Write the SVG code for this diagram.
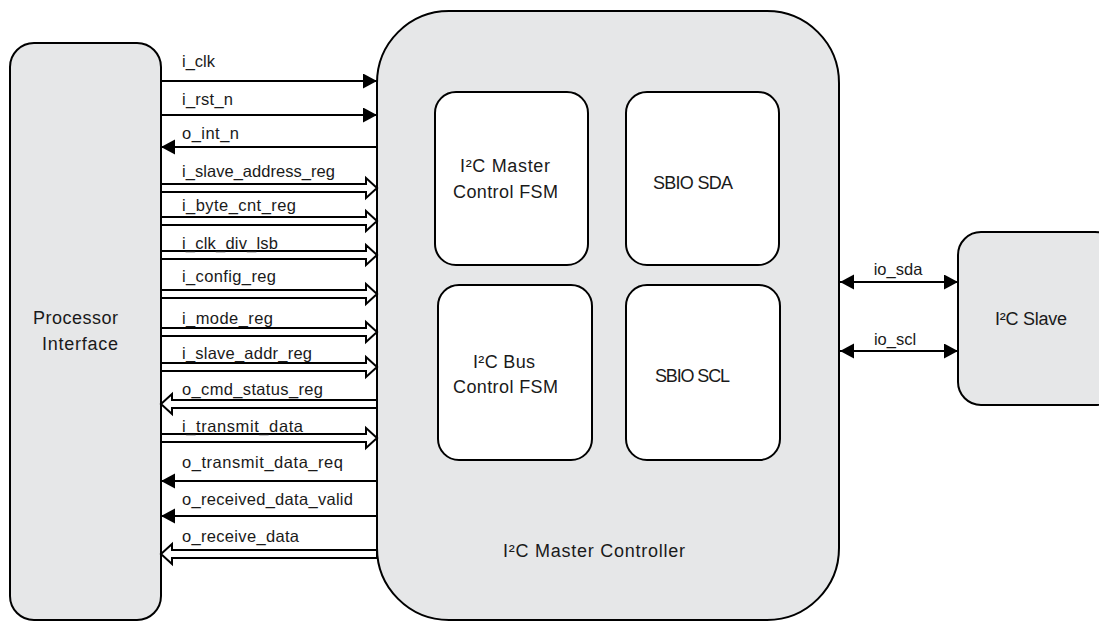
<svg xmlns="http://www.w3.org/2000/svg" xmlns:xlink="http://www.w3.org/1999/xlink" width="1099" height="621" viewBox="0 0 1099 621">
<style>
.box{fill:#e6e7e8;stroke:#000;stroke-width:2}
.inner{fill:#fff;stroke:#000;stroke-width:2}
.t{font-family:"Liberation Sans",Arial,sans-serif;font-size:18px;fill:#1a1a1a}
.s{font-family:"Liberation Sans",Arial,sans-serif;font-size:16.5px;fill:#1a1a1a}
.w{stroke:#000;stroke-width:2;fill:none}
.bus{fill:#fff;stroke:#000;stroke-width:2;stroke-linejoin:miter}
</style>
<defs>
<marker id="ah" markerUnits="userSpaceOnUse" markerWidth="16" markerHeight="16" refX="14" refY="7.5" orient="auto-start-reverse" viewBox="0 0 16 16">
<path d="M0,0 L14,7.5 L0,15 Z" fill="#000"/>
</marker>
<path id="busR" class="bus" d="M0,-4 H205 V-10 L216,0 L205,10 V4 H0 Z"/>
<path id="busL" class="bus" d="M216,-4 H11 V-10 L0,0 L11,10 V4 H216 Z"/>
</defs>
<rect width="1099" height="621" fill="#fff"/>
<g id="processor-interface">
<rect class="box" x="10" y="43" width="151" height="577" rx="24"/>
<text class="t" x="33" y="324" textLength="85">Processor</text>
<text class="t" x="42" y="350" textLength="76">Interface</text>
</g>
<g id="i2c-master-controller">
<rect class="box" x="377" y="11" width="462" height="609" rx="72"/>
<text class="t" x="503" y="557" textLength="182">I²C Master Controller</text>
</g>
<g id="master-control-fsm">
<rect class="inner" x="435" y="92" width="153" height="173" rx="21"/>
<text class="t" x="460" y="172" textLength="90">I²C Master</text>
<text class="t" x="453" y="198" textLength="105">Control FSM</text>
</g>
<g id="sbio-sda">
<rect class="inner" x="626" y="92" width="153" height="173" rx="21"/>
<text class="t" x="653" y="189" textLength="80">SBIO SDA</text>
</g>
<g id="bus-control-fsm">
<rect class="inner" x="438" y="285" width="154" height="175" rx="21"/>
<text class="t" x="473" y="368" textLength="62">I²C Bus</text>
<text class="t" x="453" y="393" textLength="105">Control FSM</text>
</g>
<g id="sbio-scl">
<rect class="inner" x="626" y="285" width="154" height="175" rx="21"/>
<text class="t" x="655" y="382" textLength="75">SBIO SCL</text>
</g>
<g id="i2c-slave">
<rect class="box" x="958" y="232" width="160" height="173" rx="23"/>
<text class="t" x="995" y="325" textLength="72">I²C Slave</text>
</g>
<g id="connectors">
<line class="w" x1="161" y1="81" x2="377" y2="81" marker-end="url(#ah)"/>
<text class="s" x="182" y="67" textLength="33">i_clk</text>
<line class="w" x1="161" y1="115" x2="377" y2="115" marker-end="url(#ah)"/>
<text class="s" x="182" y="105" textLength="51">i_rst_n</text>
<line class="w" x1="377" y1="147" x2="161" y2="147" marker-end="url(#ah)"/>
<text class="s" x="182" y="139" textLength="57">o_int_n</text>
<use xlink:href="#busR" x="161" y="188"/>
<text class="s" x="182" y="177" textLength="153">i_slave_address_reg</text>
<use xlink:href="#busR" x="161" y="221"/>
<text class="s" x="182" y="211" textLength="114">i_byte_cnt_reg</text>
<use xlink:href="#busR" x="161" y="255"/>
<text class="s" x="182" y="249" textLength="96">i_clk_div_lsb</text>
<use xlink:href="#busR" x="161" y="294"/>
<text class="s" x="182" y="282" textLength="94">i_config_reg</text>
<use xlink:href="#busR" x="161" y="332"/>
<text class="s" x="182" y="324" textLength="91">i_mode_reg</text>
<use xlink:href="#busR" x="161" y="367"/>
<text class="s" x="182" y="359" textLength="130">i_slave_addr_reg</text>
<use xlink:href="#busL" x="161" y="404"/>
<text class="s" x="182" y="395" textLength="141">o_cmd_status_reg</text>
<use xlink:href="#busR" x="161" y="438"/>
<text class="s" x="182" y="432" textLength="121">i_transmit_data</text>
<line class="w" x1="377" y1="481" x2="161" y2="481" marker-end="url(#ah)"/>
<text class="s" x="182" y="468" textLength="161">o_transmit_data_req</text>
<line class="w" x1="377" y1="516" x2="161" y2="516" marker-end="url(#ah)"/>
<text class="s" x="182" y="505" textLength="171">o_received_data_valid</text>
<use xlink:href="#busL" x="161" y="554"/>
<text class="s" x="182" y="542" textLength="117">o_receive_data</text>
<line class="w" x1="840" y1="282" x2="958" y2="282" marker-start="url(#ah)" marker-end="url(#ah)"/>
<text class="s" x="898" y="275" text-anchor="middle">io_sda</text>
<line class="w" x1="840" y1="351" x2="958" y2="351" marker-start="url(#ah)" marker-end="url(#ah)"/>
<text class="s" x="895" y="345" text-anchor="middle">io_scl</text>
</g>
</svg>
